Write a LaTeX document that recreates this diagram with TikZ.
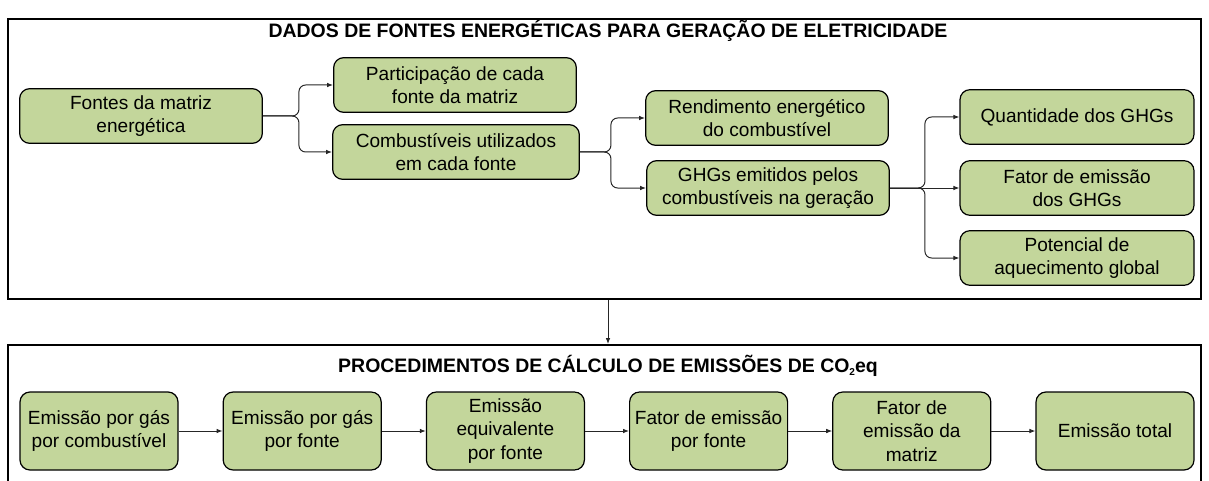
\documentclass[tikz,border=0pt]{standalone}
\usepackage{fontspec}
\setmainfont{Liberation Sans}
\usetikzlibrary{arrows.meta, positioning}
\definecolor{BoxGreen}{HTML}{C3D69B}
\definecolor{LineDark}{HTML}{262626}

\begin{document}
\begin{tikzpicture}[x=0.75pt, y=-0.75pt, node distance=33pt, >={Latex[length=4.5pt,width=3.5pt]},
        box/.style={rectangle, draw=black, line width=0.9pt, fill=BoxGreen, rounded corners=7.5pt, minimum width=182pt, minimum height=41pt, align=center, inner sep=2pt, font=\fontsize{14.3}{17.5}\selectfont},
        calcbox/.style={box, minimum width=118.5pt, minimum height=58.5pt},
        frame/.style={rectangle, draw=black, line width=1.5pt, inner sep=0pt},
        heading/.style={font=\bfseries\fontsize{14.6}{17}\selectfont},
        arrow/.style={->, line width=0.75pt, LineDark},
        branch/.style={arrow, rounded corners=5pt}]

        \useasboundingbox (0,0) rectangle (1209,481);

        % frames
        \node[frame, minimum width=894.75pt, minimum height=210pt] (dados) at (604.5,159) {};
        \node[frame, minimum width=894.75pt, minimum height=120pt] (proc) at (604.5,425) {};
        \node[heading] (tdados) at (608,31) {DADOS DE FONTES ENERGÉTICAS PARA GERAÇÃO DE ELETRICIDADE};
        \node[heading] (tproc) at (608,366) {PROCEDIMENTOS DE CÁLCULO DE EMISSÕES DE CO\raisebox{-0.25ex}{\fontsize{7.5}{8}\selectfont 2}eq};

        % data sources
        \node[box] (fontes) at (141,116) {Fontes da matriz\\energética};
        \node[box] (part) at (455,85) {Participação de cada\\fonte da matriz};
        \node[box, minimum width=185pt] (comb) at (456,152) {Combustíveis utilizados\\em cada fonte};
        \node[box] (rend) at (767,118) {Rendimento energético\\do combustível};
        \node[box] (ghg) at (768,188) {GHGs emitidos pelos\\combustíveis na geração};
        \node[box, minimum width=175.5pt] (quant) at (1077,117) {Quantidade dos GHGs};
        \node[box, minimum width=175.5pt] (fator) at (1077,188) {Fator de emissão\\dos GHGs};
        \node[box, minimum width=175.5pt] (pot) at (1077,258) {Potencial de\\aquecimento global};

        \draw[branch] (fontes.east) -- ++(36,0) |- (part.west);
        \draw[branch] (fontes.east) -- ++(36,0) |- (comb.west);
        \draw[branch] (comb.east) -- ++(31,0) |- (rend.west);
        \draw[branch] (comb.east) -- ++(31,0) |- (ghg.west);
        \draw[branch] (ghg.east) -- ++(35,0) |- (quant.west);
        \draw[arrow] (ghg.east) -- (fator.west);
        \draw[branch] (ghg.east) -- ++(35,0) |- (pot.west);

        \draw[arrow] (tdados |- dados.south) -- (tdados |- proc.north);

        % calculation steps
        \node[calcbox] (porcomb) at (99,431) {Emissão por gás\\por combustível};
        \node[calcbox, right=of porcomb] (porfonte) {Emissão por gás\\por fonte};
        \node[calcbox, right=of porfonte] (equiv) {Emissão\\equivalente\\por fonte};
        \node[calcbox, right=of equiv] (fatfonte) {Fator de emissão\\por fonte};
        \node[calcbox, right=of fatfonte] (fatmatriz) {Fator de\\emissão da\\matriz};
        \node[calcbox, right=of fatmatriz] (total) {Emissão total};

        \draw[arrow] (porcomb) -- (porfonte);
        \draw[arrow] (porfonte) -- (equiv);
        \draw[arrow] (equiv) -- (fatfonte);
        \draw[arrow] (fatfonte) -- (fatmatriz);
        \draw[arrow] (fatmatriz) -- (total);
    \end{tikzpicture}
\end{document}
